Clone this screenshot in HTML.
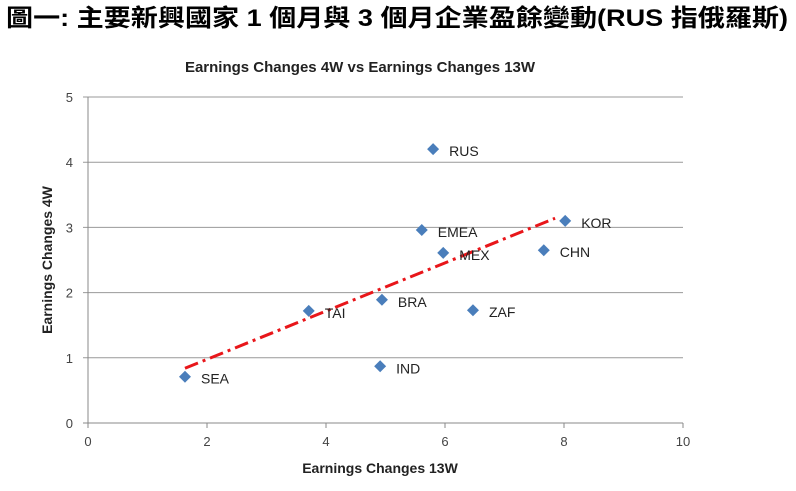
<!DOCTYPE html>
<html><head><meta charset="utf-8"><style>
body{margin:0;background:#fff;width:796px;height:486px;overflow:hidden}
svg{font-family:"Liberation Sans","Noto Sans CJK TC",sans-serif}
</style></head><body>
<svg id="c" width="796" height="486">
<text x="6" y="26" font-size="24" font-weight="bold" fill="#000" textLength="782" lengthAdjust="spacingAndGlyphs" style="font-family:'Liberation Sans','Noto Sans CJK TC',sans-serif">圖一: 主要新興國家 1 個月與 3 個月企業盈餘變動(RUS 指俄羅斯)</text>
<text x="360" y="72" font-size="15" font-weight="bold" fill="#222" text-anchor="middle">Earnings Changes 4W vs Earnings Changes 13W</text>
<text x="380" y="473" font-size="14" font-weight="bold" fill="#222" text-anchor="middle">Earnings Changes 13W</text>
<text transform="translate(52,260) rotate(-90)" font-size="14" font-weight="bold" fill="#222" text-anchor="middle">Earnings Changes 4W</text>
<g id="grid"></g><g id="marks"></g>
</svg>
<script>
const labels=["SEA","TAI","BRA","IND","EMEA","RUS","MEX","ZAF","CHN","KOR"];
const xVals=[1.63,3.71,4.94,4.91,5.61,5.8,5.97,6.47,7.66,8.02];
const yVals=[0.71,1.72,1.89,0.87,2.96,4.2,2.61,1.73,2.65,3.1];
const xTicks=[0,2,4,6,8,10];
const yTicks=[0,1,2,3,4,5];
const trendX=[1.63,7.85];
const trendY=[0.84,3.14];
const X0=88,X1=683,Y0=423,Y1=97;
const sx=v=>X0+(v-0)/(10-0)*(X1-X0);
const sy=v=>Y0-(v-0)/(5-0)*(Y0-Y1);
const NS="http://www.w3.org/2000/svg";
const g=document.getElementById('grid'),m=document.getElementById('marks');
function mk(tag,a,p){const e=document.createElementNS(NS,tag);for(const k in a)e.setAttribute(k,a[k]);p.appendChild(e);return e;}
yTicks.forEach(t=>{
 const l=mk('line',{x1:X0-5,x2:X1,y1:sy(t),y2:sy(t),stroke:t===0?'#888':'#999','stroke-width':1},g);
 
 
 const tx=mk('text',{x:X0-15,y:sy(t)+5,'font-size':13,fill:'#444','text-anchor':'end'},g);tx.textContent=t;
 
 
});
const ax=mk('line',{x1:X0,x2:X0,y1:Y1,y2:Y0,stroke:'#888'},g);


xTicks.forEach(t=>{
 const k=mk('line',{x1:sx(t),x2:sx(t),y1:Y0,y2:Y0+5,stroke:'#888'},g);
 
 
 const tx=mk('text',{x:sx(t),y:Y0+23,'font-size':13,fill:'#444','text-anchor':'middle'},g);tx.textContent=t;
 
 
});
const tl=mk('line',{x1:sx(trendX[0]),y1:sy(trendY[0]),x2:sx(trendX[1]),y2:sy(trendY[1]),stroke:'#e8161a','stroke-width':3,'stroke-dasharray':'14,5,3,5'},m);


labels.forEach((n,i)=>{
 const x=sx(xVals[i]),y=sy(yVals[i]);
 const p=mk('path',{d:`M${x} ${y-6}L${x+6} ${y}L${x} ${y+6}L${x-6} ${y}Z`,fill:'#4a7ebb'},m);
 
 
 const t=mk('text',{x:x+16,y:y+7,'font-size':14,fill:'#222'},m);t.textContent=n;
 
 
});
</script>
</body></html>
